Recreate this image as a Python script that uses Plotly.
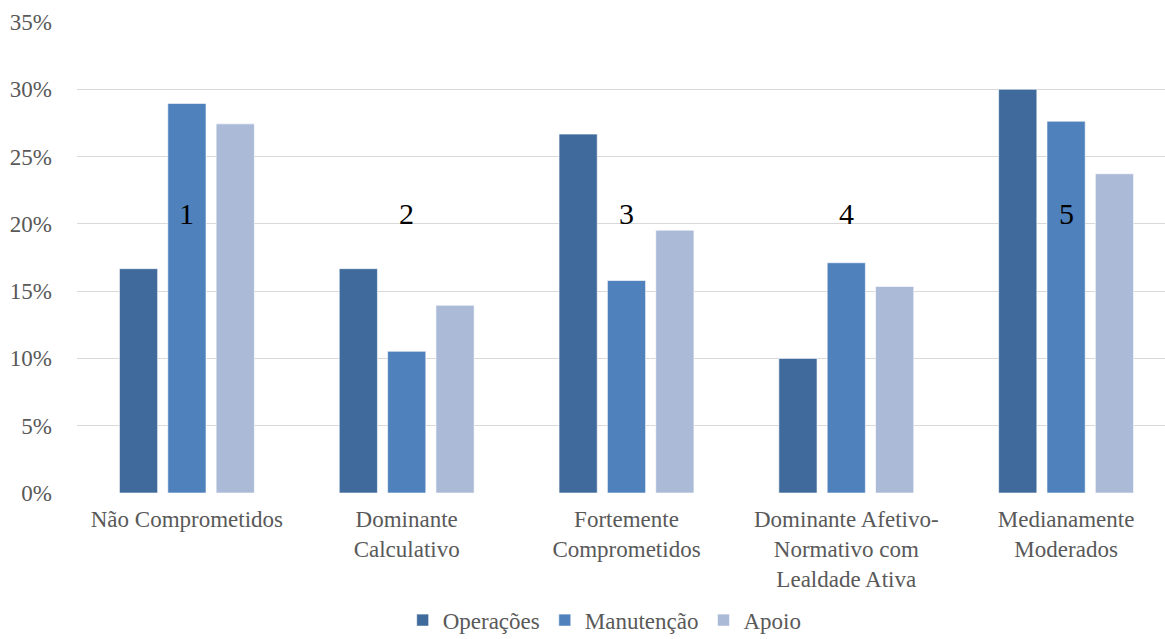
import plotly.graph_objects as go

# Commitment profiles by department (percent of respondents)
categories = [
    "Não Comprometidos",
    "Dominante<br>Calculativo",
    "Fortemente<br>Comprometidos",
    "Dominante Afetivo-<br>Normativo com<br>Lealdade Ativa",
    "Medianamente<br>Moderados",
]
operacoes = [16.67, 16.67, 26.67, 10.0, 30.0]
manutencao = [28.95, 10.53, 15.79, 17.11, 27.63]
apoio = [27.43, 13.95, 19.53, 15.35, 23.72]

cluster_labels = ["1", "2", "3", "4", "5"]
cluster_label_y = [20.8, 20.8, 20.8, 20.8, 20.8]

y_ticks = [0, 5, 10, 15, 20, 25, 30, 35]
y_tick_text = [f"{v}%" for v in y_ticks]

serif = "Liberation Serif"
grey = "#595959"

fig = go.Figure()
series = [
    ("Operações", operacoes, "#3F6A9B"),
    ("Manutenção", manutencao, "#4F81BD"),
    ("Apoio", apoio, "#AABAD7"),
]
for name, vals, color in series:
    fig.add_trace(go.Bar(
        name=name, x=categories, y=vals,
        marker=dict(color=color, line=dict(color="rgba(255,255,255,0.6)", width=1)),
    ))

for cat, lab, yv in zip(categories, cluster_labels, cluster_label_y):
    fig.add_annotation(x=cat, y=yv, text=lab, showarrow=False,
                       font=dict(family=serif, size=30, color="#000000"))

fig.update_layout(
    width=1165, height=639,
    margin=dict(l=77, r=0, t=22, b=146, autoexpand=False),
    paper_bgcolor="white", plot_bgcolor="white",
    barmode="group", bargap=0.34, bargroupgap=0.21,
    font=dict(family=serif, size=23, color=grey),
    showlegend=True,
    legend=dict(orientation="h", x=0.485, xanchor="center", y=-0.27, yanchor="middle",
                font=dict(family=serif, size=23, color=grey), itemwidth=30,
                traceorder="normal", itemclick=False),
    xaxis=dict(range=[-0.5, 4.45], showgrid=False, zeroline=False, showline=False,
               ticks="", ticklabelstandoff=10,
               tickfont=dict(family=serif, size=23, color=grey)),
    yaxis=dict(range=[0, 35], tickvals=y_ticks, ticktext=y_tick_text, showgrid=True,
               gridcolor="#D9D9D9", gridwidth=1, zeroline=False, showline=False,
               ticks="", ticklabelstandoff=24,
               tickfont=dict(family=serif, size=23, color=grey)),
)

fig.write_html("out.html")
